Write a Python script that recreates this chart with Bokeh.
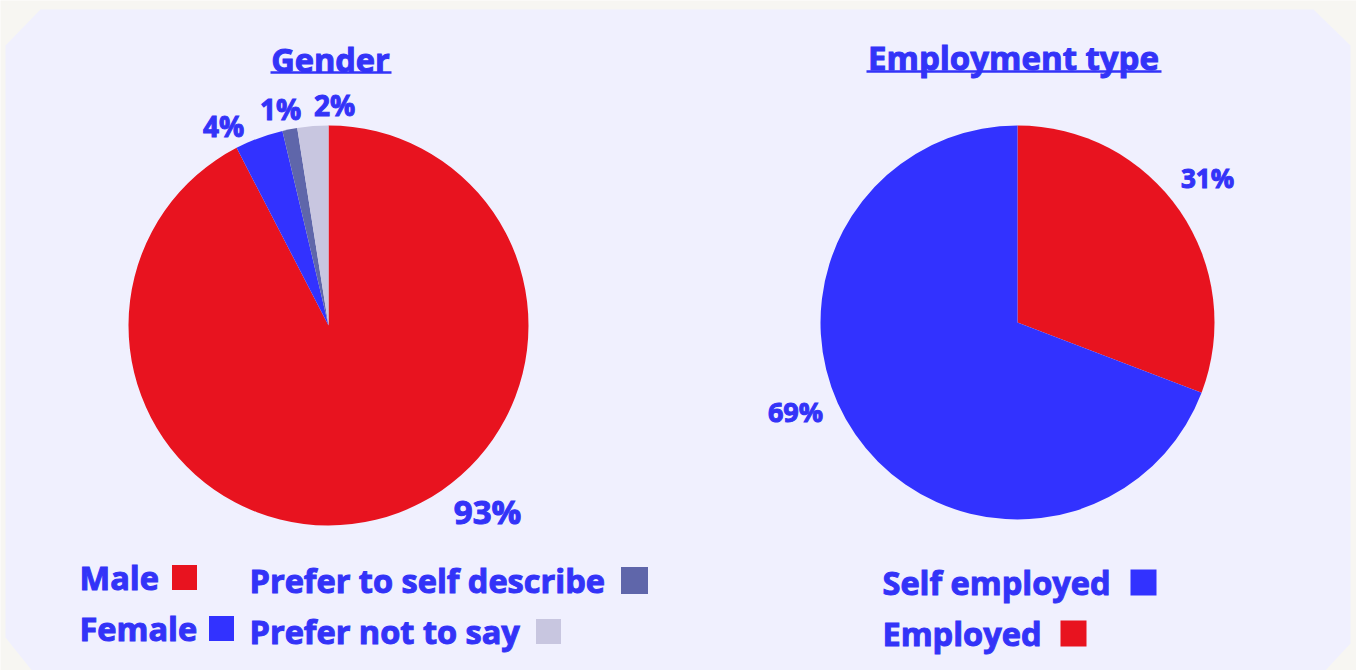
import math
from bokeh.plotting import figure
from bokeh.models import Range1d, ColumnDataSource
from bokeh.core.properties import value
from bokeh.embed import file_html
from bokeh.resources import INLINE

# ---- data ----
gender_categories = ["Male", "Female", "Prefer to self describe", "Prefer not to say"]
gender_values = [92.4, 3.9, 1.2, 2.5]
gender_labels = ["93%", "4%", "1%", "2%"]
gender_colors = ["#e8131f", "#3232ff", "#5f66aa", "#c8c6e0"]

employment_categories = ["Employed", "Self employed"]
employment_values = [30.8, 69.2]
employment_labels = ["31%", "69%"]
employment_colors = ["#e8131f", "#3232ff"]

W, H = 1356, 670
TEXT = "#3333f8"
FONT = "Open Sans"

def X(x):
    return x

def Y(y):
    return H - y

p = figure(width=W, height=H, output_backend="svg", toolbar_location=None,
           x_range=Range1d(0, W), y_range=Range1d(0, H), min_border=0)
p.axis.visible = False
p.grid.visible = False
p.outline_line_color = None
p.background_fill_color = "#f7f6f2"
p.border_fill_color = "#f7f6f2"

# panel with chamfered corners
px = [5, 40, 1313, 1350, 1350, 1323, 33, 5]
py = [45, 9, 9, 45, 643, 672, 672, 637]
p.patch([X(v) for v in px], [Y(v) for v in py], fill_color="#f0f0fe", line_color=None)


def pie(cx, cy, r, vals, cols):
    total = sum(vals)
    starts, ends = [], []
    cum = 0.0
    for v in vals:
        starts.append(math.pi / 2 - 2 * math.pi * cum / total)
        cum += v
        ends.append(math.pi / 2 - 2 * math.pi * cum / total)
    src = ColumnDataSource(dict(x=[X(cx)] * len(vals), y=[Y(cy)] * len(vals),
                                s=starts, e=ends, c=cols))
    p.wedge(x="x", y="y", radius=r, radius_units="screen", start_angle="s", end_angle="e",
            direction="clock", fill_color="c", line_color=None, source=src)

pie(328, 325, 200, gender_values, gender_colors)
pie(1017, 322, 197, employment_values, employment_colors)

# pie labels
def label(x, y, t, size, align="center"):
    p.text([X(x)], [Y(y)], text=[t], text_font=value(FONT), text_font_style="bold",
           text_font_size=f"{size}px", text_color=TEXT, text_align=align,
           text_baseline="middle", text_outline_color=TEXT)

gpos = [(487, 511, 33), (223, 125, 28), (280, 108, 28), (334, 104, 28)]
for (x, y, s), t in zip(gpos, gender_labels):
    label(x, y, t, s)
epos = [(1207, 177, 26), (795, 411, 27)]
for (x, y, s), t in zip(epos, employment_labels):
    label(x, y, t, s)

# titles with underline
label(330, 59, "Gender", 32.5)
p.line([X(270), X(391)], [Y(72), Y(72)], line_color=TEXT, line_width=2.5)
label(1013, 57, "Employment type", 33)
p.line([X(866), X(1161)], [Y(71), Y(71)], line_color=TEXT, line_width=2.5)

# legends
gleg = [(79, 577, 184, 25), (79, 628, 221, 25), (249, 580, 634, 27), (249, 631, 548, 25)]
for (tx, ty, sx, ss), name, col in zip(gleg, gender_categories, gender_colors):
    label(tx, ty, name, 32.5, align="left")
    p.scatter([X(sx)], [Y(ty)], marker="square", size=ss, fill_color=col, line_color=None)

eleg = {"Self employed": (882, 582, 1143, 26), "Employed": (882, 633, 1073, 26)}
for name, col in zip(employment_categories, employment_colors):
    tx, ty, sx, ss = eleg[name]
    label(tx, ty, name, 32.5, align="left")
    p.scatter([X(sx)], [Y(ty)], marker="square", size=ss, fill_color=col, line_color=None)

open("out.html", "w").write(file_html(p, INLINE))
